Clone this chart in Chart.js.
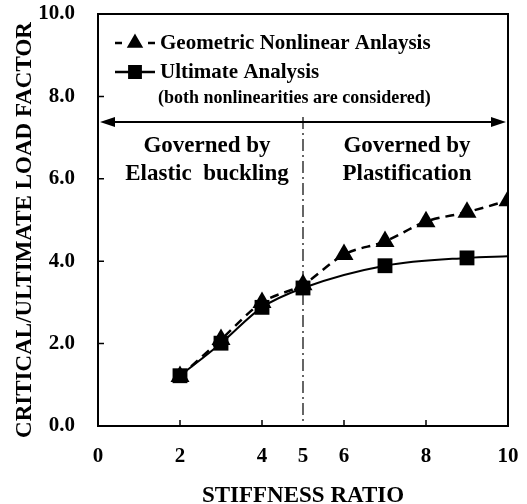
<!DOCTYPE html>
<html>
<head>
<meta charset="utf-8">
<script src="https://cdn.jsdelivr.net/npm/chart.js@4.4.1/dist/chart.umd.min.js"></script>
<style>
html,body{margin:0;padding:0;background:#fff;}
#wrap{width:527px;height:504px;position:relative;}
</style>
</head>
<body>
<div id="wrap"><canvas id="c" width="527" height="504"></canvas></div>
<script>
// ---- data ----
const xTickValues = [0, 2, 4, 5, 6, 8, 10];
const yTickValues = [0, 2, 4, 6, 8, 10];
const geoX = [2, 3, 4, 5, 6, 7, 8, 9, 10];
const geoY = [1.2, 2.1, 3.0, 3.43, 4.16, 4.48, 4.96, 5.19, 5.47];
const ultX = [2, 3, 4, 5, 7, 9, 10];
const ultY = [1.22, 2.01, 2.88, 3.35, 3.89, 4.08, 4.12];
const ultMarker = [true, true, true, true, true, true, false];
const seriesNames = ['Geometric Nonlinear Anlaysis', 'Ultimate Analysis'];
const legendNote = '(both nonlinearities are considered)';
const xTitle = 'STIFFNESS RATIO';
const yTitle = 'CRITICAL/ULTIMATE LOAD FACTOR';
const boundaryX = 5;
const boundaryTopY = 7.5;
const arrowY = 7.38;
const leftRegionText = ['Governed by', 'Elastic  buckling'];
const rightRegionText = ['Governed by', 'Plastification'];

const FONT = '"Liberation Serif", "Times New Roman", serif';

const annot = {
  id: 'annot',
  afterDatasetsDraw(chart) {
    const ctx = chart.ctx;
    const xs = chart.scales.x, ys = chart.scales.y;
    const a = chart.chartArea;
    ctx.save();
    ctx.strokeStyle = '#000';
    ctx.fillStyle = '#000';
    // box
    ctx.lineWidth = 2;
    ctx.strokeRect(a.left, a.top, a.right - a.left, a.bottom - a.top);
    // inside ticks
    ctx.lineWidth = 1.5;
    ctx.beginPath();
    xTickValues.forEach(v => {
      if (v === boundaryX) return;
      const px = xs.getPixelForValue(v);
      ctx.moveTo(px, a.bottom); ctx.lineTo(px, a.bottom - 6);
    });
    yTickValues.forEach(v => {
      const py = ys.getPixelForValue(v);
      ctx.moveTo(a.left, py); ctx.lineTo(a.left + 6, py);
    });
    ctx.stroke();
    // dash-dot boundary line
    const bx = xs.getPixelForValue(boundaryX);
    ctx.lineWidth = 1.2;
    ctx.setLineDash([12, 4, 2, 4]);
    ctx.beginPath();
    ctx.moveTo(bx, ys.getPixelForValue(boundaryTopY));
    ctx.lineTo(bx, ys.getPixelForValue(0));
    ctx.stroke();
    ctx.setLineDash([]);
    // double arrow
    const ay = ys.getPixelForValue(arrowY);
    const ax0 = xs.getPixelForValue(0) + 2, ax1 = xs.getPixelForValue(10) - 2;
    ctx.lineWidth = 2;
    ctx.beginPath();
    ctx.moveTo(ax0 + 4, ay); ctx.lineTo(ax1 - 4, ay);
    ctx.stroke();
    ctx.beginPath();
    ctx.moveTo(ax0, ay); ctx.lineTo(ax0 + 15, ay - 5); ctx.lineTo(ax0 + 15, ay + 5); ctx.closePath();
    ctx.moveTo(ax1, ay); ctx.lineTo(ax1 - 15, ay - 5); ctx.lineTo(ax1 - 15, ay + 5); ctx.closePath();
    ctx.fill();
    // region texts
    ctx.font = 'bold 23px ' + FONT;
    ctx.textAlign = 'center';
    ctx.textBaseline = 'middle';
    const lx = 207, rx = 407;
    ctx.fillText(leftRegionText[0], lx, 146);
    ctx.fillText(leftRegionText[1], lx, 174);
    ctx.fillText(rightRegionText[0], rx, 146);
    ctx.fillText(rightRegionText[1], rx, 174);
    // legend
    const l0 = 115, l1 = 155, lm = (l0 + l1) / 2;
    ctx.lineWidth = 2.5;
    ctx.beginPath();
    ctx.moveTo(l0, 43); ctx.lineTo(l0 + 7, 43);
    ctx.moveTo(l1 - 7, 43); ctx.lineTo(l1, 43);
    ctx.stroke();
    ctx.lineWidth = 2.5;
    ctx.beginPath(); ctx.moveTo(l0, 72); ctx.lineTo(l1, 72); ctx.stroke();
    Chart.helpers.drawPoint(ctx, {pointStyle: 'triangle', radius: 7, borderWidth: 1}, lm, 43);
    ctx.fill();
    Chart.helpers.drawPoint(ctx, {pointStyle: 'rect', radius: 8, borderWidth: 1}, lm, 72);
    ctx.fill();
    ctx.textAlign = 'left';
    ctx.font = 'bold 21px ' + FONT;
    ctx.fillText(seriesNames[0], 160, 44);
    ctx.fillText(seriesNames[1], 160, 73);
    ctx.font = 'bold 18px ' + FONT;
    ctx.fillText(legendNote, 158, 98);
    // y axis title
    ctx.save();
    ctx.translate(25, 230);
    ctx.rotate(-Math.PI / 2);
    ctx.textAlign = 'center';
    ctx.font = 'bold 23px ' + FONT;
    ctx.fillText(yTitle, 0, 0);
    ctx.restore();
    ctx.restore();
  }
};

const noPad = s => { s.paddingTop = 0; s.paddingBottom = 0; s.paddingLeft = 0; s.paddingRight = 0; };

new Chart(document.getElementById('c'), {
  type: 'scatter',
  data: {
    datasets: [
      {
        label: seriesNames[0],
        data: geoX.map((x, i) => ({x, y: geoY[i]})),
        showLine: true,
        borderColor: '#000',
        backgroundColor: '#000',
        borderWidth: 2.5,
        borderDash: [9, 6],
        cubicInterpolationMode: 'monotone',
        pointStyle: 'triangle',
        pointRadius: 11,
        pointBorderWidth: 0
      },
      {
        label: seriesNames[1],
        data: ultX.map((x, i) => ({x, y: ultY[i]})),
        showLine: true,
        borderColor: '#000',
        backgroundColor: '#000',
        borderWidth: 2,
        cubicInterpolationMode: 'monotone',
        pointStyle: 'rect',
        pointRadius: ultMarker.map(m => m ? 10.5 : 0),
        pointBorderWidth: 0
      }
    ]
  },
  options: {
    responsive: false,
    animation: false,
    devicePixelRatio: 1,
    layout: {padding: {top: 14, right: 19, left: 0, bottom: 0}},
    plugins: {legend: {display: false}, tooltip: {enabled: false}},
    scales: {
      x: {
        type: 'linear', min: 0, max: 10,
        afterBuildTicks: s => { s.ticks = xTickValues.map(v => ({value: v})); },
        afterFit: s => { s.height = 78; noPad(s); },
        grid: {display: false, drawTicks: false},
        border: {display: true, color: '#000', width: 2},
        ticks: {color: '#000', padding: 18, maxRotation: 0, autoSkip: false,
                font: {family: FONT, size: 21, weight: 'bold'}},
        title: {display: true, text: xTitle, color: '#000', padding: {top: 0, bottom: -6},
                font: {family: FONT, size: 23, weight: 'bold'}}
      },
      y: {
        type: 'linear', min: 0, max: 10,
        afterBuildTicks: s => { s.ticks = yTickValues.map(v => ({value: v})); },
        afterFit: s => { s.width = 98; noPad(s); },
        grid: {display: false, drawTicks: false},
        border: {display: true, color: '#000', width: 2},
        ticks: {color: '#000', padding: 23, autoSkip: false,
                callback: v => Number(v).toFixed(1),
                font: {family: FONT, size: 21, weight: 'bold'}},
        title: {display: false, text: yTitle}
      }
    }
  },
  plugins: [annot]
});
</script>
</body>
</html>
